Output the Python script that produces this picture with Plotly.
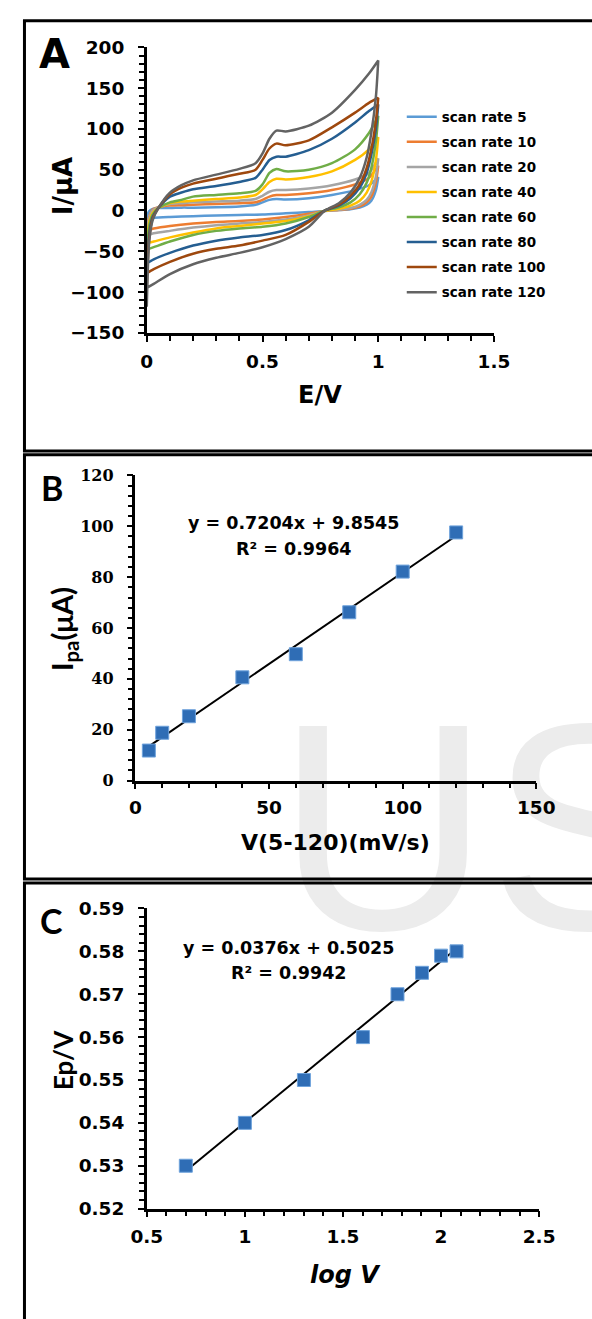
import plotly.graph_objects as go

W, H = 592, 1319

# ---------------- Panel A data (cyclic voltammograms) ----------------
scan_rates = [5, 10, 20, 40, 60, 80, 100, 120]
cv_colors = ["#5B9BD5", "#ED7D31", "#A5A5A5", "#FFC000", "#70AD47", "#255E91", "#9E480E", "#636363"]

E_fwd = [0, 0.01, 0.025, 0.05, 0.1, 0.15, 0.2, 0.3, 0.4, 0.47, 0.5, 0.53, 0.56, 0.6, 0.7, 0.8, 0.9, 0.96, 1.0]
E_rev = [1.0, 0.99, 0.97, 0.95, 0.92, 0.88, 0.83, 0.77, 0.7, 0.6, 0.5, 0.4, 0.3, 0.2, 0.1, 0.03, 0.0]

i5_fwd = [-10, -1, 2, 3, 3, 3.5, 3.5, 4, 5, 7, 10, 13, 14, 13.5, 15, 19, 25, 31, 41]
i10_fwd = [-24, -8, 1, 4, 6, 6.5, 7, 8, 9, 10, 13, 17, 19, 19, 21, 25, 32, 40, 55]
i20_fwd = [-30, -10, 0, 4, 8, 9, 10, 11, 12, 14, 18, 23, 25, 25, 27, 31, 38, 46, 64]
i40_fwd = [-45, -15, -3, 3, 9, 11, 12, 14, 16, 19, 26, 35, 39, 38, 41, 48, 62, 75, 90]
i60_fwd = [-60, -20, -5, 3, 10, 13, 17, 19, 21, 24, 32, 46, 51, 48, 50, 58, 75, 95, 116]
i80_fwd = [-80, -30, -8, 3, 17, 22, 26, 30, 35, 40, 50, 62, 66, 66, 74, 88, 108, 122, 130]
i100_fwd = [-95, -35, -10, 3, 20, 28, 33, 39, 45, 50, 62, 76, 82, 80, 86, 102, 120, 132, 138]
i120_fwd = [-118, -40, -12, 3, 22, 31, 37, 44, 51, 58, 70, 88, 98, 97, 104, 120, 148, 168, 184]

i5_rev = [41, 25, 12, 7, 3.5, 1.5, 0.5, -0.5, -2, -3.5, -5, -5.5, -6, -7, -8, -9, -10]
i10_rev = [55, 35, 17, 10, 5, 2, 0.5, -0.5, -4, -8, -11, -13, -14, -16, -19, -22, -24]
i20_rev = [64, 42, 22, 13, 7, 3, 1, -0.5, -6, -11, -14, -16, -18, -21, -25, -28, -30]
i40_rev = [90, 62, 35, 22, 12, 6, 2, -0.5, -7, -13, -16, -19, -22, -27, -33, -38, -40]
i60_rev = [116, 85, 52, 34, 20, 10, 4, 0, -8, -16, -20, -22, -25, -30, -38, -45, -48]
i80_rev = [130, 100, 68, 46, 28, 15, 6, 0, -12, -24, -30, -33, -37, -43, -52, -60, -65]
i100_rev = [138, 110, 75, 52, 32, 18, 7, 0, -14, -30, -37, -43, -47, -53, -63, -72, -77]
i120_rev = [184, 140, 95, 65, 40, 22, 9, 0, -20, -35, -45, -52, -58, -66, -78, -90, -95]

cv_fwd = [i5_fwd, i10_fwd, i20_fwd, i40_fwd, i60_fwd, i80_fwd, i100_fwd, i120_fwd]
cv_rev = [i5_rev, i10_rev, i20_rev, i40_rev, i60_rev, i80_rev, i100_rev, i120_rev]

# ---------------- Panel B data ----------------
v_scan = [5, 10, 20, 40, 60, 80, 100, 120]
ipa = [11.8, 18.8, 25.3, 40.6, 49.7, 66.2, 82.2, 97.6]
b_slope, b_int = 0.7204, 9.8545

# ---------------- Panel C data ----------------
log_v = [0.699, 1.0, 1.301, 1.602, 1.778, 1.903, 2.0, 2.079]
ep = [0.530, 0.540, 0.550, 0.560, 0.570, 0.575, 0.579, 0.580]
c_slope, c_int = 0.0376, 0.5025

SANS = "DejaVu Sans"
CAL = "Lato"
BLUE = "#2F6DB5"


def px_x(p):
    return p / W


def px_y(p):
    return 1 - p / H


fig = go.Figure()

# watermark on a full-page background axis (drawn first, underneath)
fig.add_trace(go.Scatter(
    x=[277], y=[858], mode="text", text=["US"], textposition="middle right",
    textfont=dict(size=295, color="#ececec", family="Liberation Sans"),
    xaxis="x", yaxis="y", showlegend=False, hoverinfo="skip", cliponaxis=False))

# Panel A
for k, sr in enumerate(scan_rates):
    fig.add_trace(go.Scatter(
        x=E_fwd + E_rev, y=cv_fwd[k] + cv_rev[k], mode="lines",
        line=dict(color=cv_colors[k], width=2.5, shape="spline", smoothing=0.7),
        name=f"scan rate {sr}", legendgroup=f"g{k}",
        xaxis="x2", yaxis="y2"))

# Panel B
fig.add_trace(go.Scatter(
    x=[v_scan[0], v_scan[-1]],
    y=[b_slope * v_scan[0] + b_int, b_slope * v_scan[-1] + b_int],
    mode="lines", line=dict(color="black", width=2), showlegend=False,
    xaxis="x3", yaxis="y3"))
fig.add_trace(go.Scatter(
    x=v_scan, y=ipa, mode="markers",
    marker=dict(symbol="square", size=13, color=BLUE, line=dict(color="#6FA3DC", width=1)),
    showlegend=False, xaxis="x3", yaxis="y3"))

# Panel C
fig.add_trace(go.Scatter(
    x=[log_v[0], log_v[-1]],
    y=[c_slope * log_v[0] + c_int, c_slope * log_v[-1] + c_int],
    mode="lines", line=dict(color="black", width=2), showlegend=False,
    xaxis="x4", yaxis="y4"))
fig.add_trace(go.Scatter(
    x=log_v, y=ep, mode="markers",
    marker=dict(symbol="square", size=13, color=BLUE, line=dict(color="#6FA3DC", width=1)),
    showlegend=False, xaxis="x4", yaxis="y4"))


def axis_style(tick_font, dtick, minor_dtick, rng, domain, anchor, standoff):
    return dict(
        domain=domain, anchor=anchor, range=rng, dtick=dtick, tick0=rng[0],
        showline=True, linecolor="black", linewidth=2.5, mirror=False,
        ticks="outside", ticklen=6, tickwidth=2, tickcolor="black",
        minor=dict(dtick=minor_dtick, tick0=rng[0], ticks="outside", ticklen=5, tickwidth=1.5, tickcolor="black"),
        showgrid=False, zeroline=False, tickfont=tick_font, ticklabelstandoff=standoff,
        fixedrange=True)


tf = dict(family=SANS, size=18.5, color="black", weight="bold")
tf_serif = dict(family="DejaVu Serif", size=16, color="black", weight="bold")

layout = dict(
    width=W, height=H, margin=dict(l=0, r=0, t=0, b=0), autosize=False,
    paper_bgcolor="white", plot_bgcolor="rgba(0,0,0,0)",
    xaxis=dict(domain=[0, 1], range=[0, W], visible=False, fixedrange=True),
    yaxis=dict(domain=[0, 1], range=[H, 0], visible=False, fixedrange=True),
    # Panel A
    xaxis2=axis_style(tf, 0.5, 0.1, [0, 1.5], [px_x(139), px_x(508)], "y2", 4),
    yaxis2=axis_style(tf, 50, 10, [-150, 200], [px_y(327), px_y(37)], "x2", 10),
    # Panel B
    xaxis3=axis_style(tf, 50, 10, [0, 150], [px_x(127), px_x(553)], "y3", 3),
    yaxis3=axis_style(tf_serif, 20, 4, [0, 120], [px_y(782), px_y(472)], "x3", 10),
    # Panel C
    xaxis4=axis_style(tf, 0.5, 0.1, [0.5, 2.5], [px_x(139), px_x(556)], "y4", 3),
    yaxis4=axis_style(tf, 0.01, 0.002, [0.52, 0.59], [px_y(1217), px_y(912)], "x4", 10),
    showlegend=True,
    legend=dict(x=px_x(410), y=px_y(92), xanchor="left", yanchor="top",
                font=dict(family=SANS, size=13.5, color="black", weight="bold"),
                bgcolor="rgba(0,0,0,0)", tracegroupgap=4.5, itemwidth=30),
)
layout["yaxis4"]["tickformat"] = ".2f"
fig.update_layout(**layout)


def ann(text, x, y, size, family=SANS, angle=0, italic=False):
    fig.add_annotation(
        text=text, x=px_x(x), y=px_y(y), xref="paper", yref="paper",
        showarrow=False, textangle=angle, xanchor="center", yanchor="middle",
        font=dict(family=family, size=size, color="black", weight="bold",
                  style="italic" if italic else "normal"))


# panel letters
ann("A", 41, 44, 40)
ann("B", 38, 484, 34, family=CAL)
ann("C", 38, 924, 34, family=CAL)

# axis titles
ann("I/μA", 50, 178, 26, angle=-90)
ann("E/V", 323, 390, 24)
ann("I<sub>pa</sub>(μA)", 50, 628, 29, family=CAL, angle=-90)
ann("V(5-120)(mV/s)", 340, 845, 22)
ann("Ep/V", 50, 1066, 26, family=CAL, angle=-90)
ann("log V", 350, 1284, 24, italic=True)

# regression equations
ann(f"y = {b_slope}x + {b_int}", 295, 520, 17.5)
ann("R² = 0.9964", 295, 547, 17.5)
ann(f"y = {c_slope}x + {c_int}", 290, 952, 17.5)
ann("R² = 0.9942", 290, 978, 17.5)

# panel frames
for (top, bottom) in [(10, 447), (451, 882), (886, 1340)]:
    fig.add_shape(type="rect", xref="paper", yref="paper",
                  x0=px_x(9), x1=1.05, y0=px_y(bottom), y1=px_y(top),
                  line=dict(color="black", width=3), fillcolor="rgba(0,0,0,0)")

fig.write_html("out.html", config={"displayModeBar": False},
               post_script="document.body.style.margin='0';document.body.style.overflow='hidden';")
